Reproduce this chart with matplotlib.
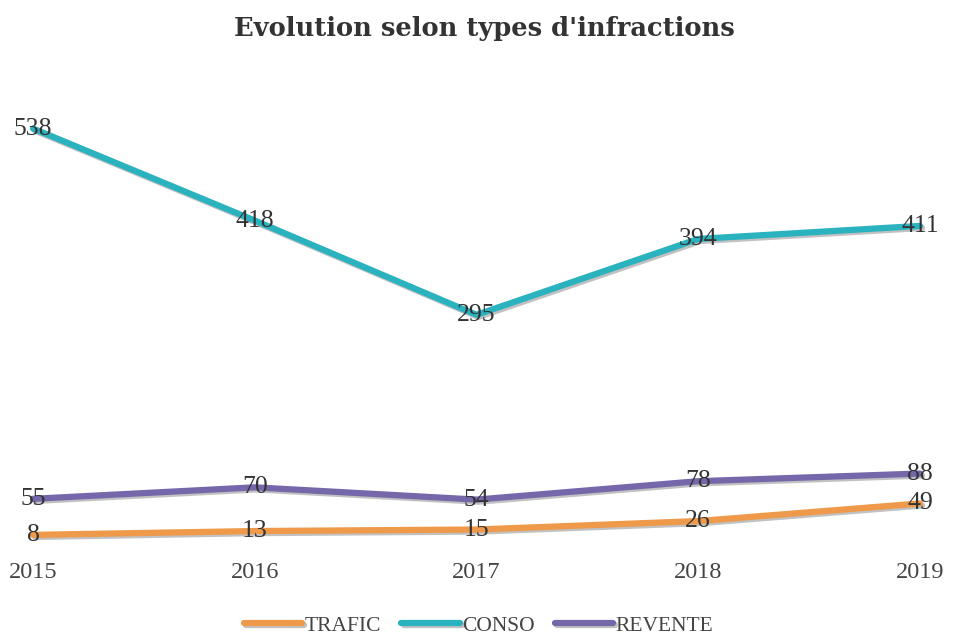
import matplotlib.pyplot as plt
import matplotlib.patheffects as pe

years = [2015, 2016, 2017, 2018, 2019]
trafic = [8, 13, 15, 26, 49]
conso = [538, 418, 295, 394, 411]
revente = [55, 70, 54, 78, 88]

series = [
    ("TRAFIC", trafic, "#EE9A4A"),
    ("CONSO", conso, "#2BB2BF"),
    ("REVENTE", revente, "#7567AA"),
]

plt.rcParams['font.family'] = ['Liberation Serif', 'DejaVu Serif']

fig = plt.figure(figsize=(9.57, 6.34), dpi=100)
ax = fig.add_axes([33 / 957, (634 - 541) / 634, (920 - 33) / 957, 460 / 634])

shadow = [pe.SimpleLineShadow(offset=(1.5, -1.5), shadow_color='#999999', alpha=0.6), pe.Normal()]
for name, vals, col in series:
    ax.plot(years, vals, color=col, lw=4.5, label=name, solid_capstyle='round',
            clip_on=False, path_effects=shadow)
    for x, v in zip(years, vals):
        ax.text(x, v, str(v), ha='center', va='center', fontsize=18.5, color='#333333')

ax.set_xlim(2015, 2019)
ax.set_ylim(0, 600)
ax.set_xticks(years)
ax.set_xticklabels([str(y) for y in years], fontsize=17.5, color='#444444')
ax.tick_params(axis='x', length=0, pad=15)
ax.set_yticks([])
for s in ax.spines.values():
    s.set_visible(False)

fig.text(0.506, 0.955, "Evolution selon types d'infractions", fontsize=18.5, fontweight='bold',
         family='DejaVu Serif', color='#333333', ha='center', va='center')

fig.legend(loc='lower center', bbox_to_anchor=(0.5, -0.033), ncol=3, frameon=False,
           fontsize=15.5, handlelength=2.7, handletextpad=0.1, columnspacing=0.95,
           labelcolor='#444444')

fig.savefig('out.png', dpi=100)
